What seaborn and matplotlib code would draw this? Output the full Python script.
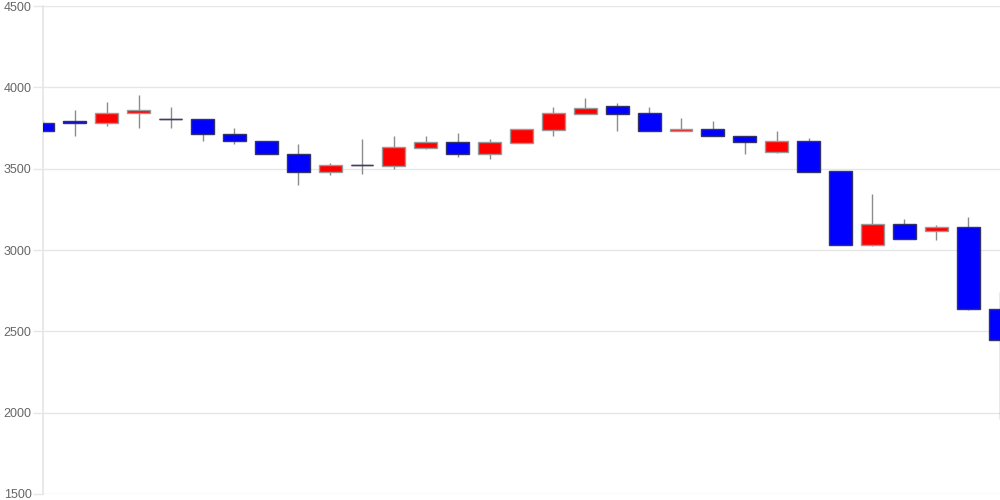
import numpy as np
import seaborn as sns
import matplotlib.pyplot as plt

# daily candles
opens  = [3783, 3793, 3779, 3840, 3803, 3803, 3711, 3672, 3592, 3479, 3520,
          3518, 3629, 3662, 3588, 3660, 3740, 3838, 3883, 3842, 3730, 3744,
          3703, 3600, 3672, 3484, 3031, 3162, 3119, 3140, 2639]
highs  = [3800, 3861, 3910, 3951, 3881, 3803, 3750, 3672, 3650, 3535, 3682,
          3701, 3701, 3719, 3680, 3742, 3881, 3932, 3902, 3881, 3811, 3793,
          3703, 3731, 3690, 3484, 3342, 3190, 3154, 3203, 2742]
lows   = [3725, 3701, 3760, 3752, 3752, 3672, 3650, 3590, 3401, 3461, 3469,
          3500, 3621, 3570, 3561, 3660, 3701, 3834, 3730, 3730, 3730, 3699,
          3592, 3598, 3479, 3031, 3022, 3070, 3060, 2630, 1963]
closes = [3730, 3779, 3840, 3862, 3803, 3711, 3670, 3590, 3479, 3522, 3520,
          3631, 3662, 3588, 3662, 3742, 3842, 3871, 3838, 3730, 3744, 3699,
          3662, 3672, 3479, 3031, 3162, 3070, 3141, 2639, 2449]
yticks = [1500, 2000, 2500, 3000, 3500, 4000, 4500]

sns.set_theme(style="whitegrid")
plt.rcParams['font.family'] = ['Liberation Sans', 'DejaVu Sans']

o = np.array(opens)
c = np.array(closes)
x = np.arange(len(o))

fig = plt.figure(figsize=(10, 5), dpi=100)
ax = fig.add_axes([0.043, 0.012, 0.957, 0.976])

# wicks
ax.vlines(x, lows, highs, color='#8c8c8c', linewidth=1, zorder=2)

# bodies: red up, blue down
colors = np.where(c > o, 'red', 'blue')
edges = np.where(c > o, '#999999', '#333366')
ax.bar(x, np.abs(c - o), bottom=np.minimum(o, c), width=0.72,
       color=colors, edgecolor=edges, linewidth=1, zorder=3)

# doji
doji = o == c
ax.hlines(o[doji], x[doji] - 0.36, x[doji] + 0.36, color='#444444',
          linewidth=1, zorder=4)

ax.set_xlim(0, 30)
ax.set_ylim(1500, 4500)
ax.set_yticks(yticks)
ax.set_xticks([])
ax.grid(axis='y', color='#e6e6e6', linewidth=1)
ax.grid(axis='x', visible=False)
for s in ['top', 'right', 'bottom']:
    ax.spines[s].set_visible(False)
ax.spines['left'].set_color('#e6e6e6')
ax.tick_params(axis='y', length=7.2, width=1, color='#e6e6e6',
               labelsize=9, labelcolor='#666666', pad=1, left=True)

plt.savefig('out.png', dpi=100)
